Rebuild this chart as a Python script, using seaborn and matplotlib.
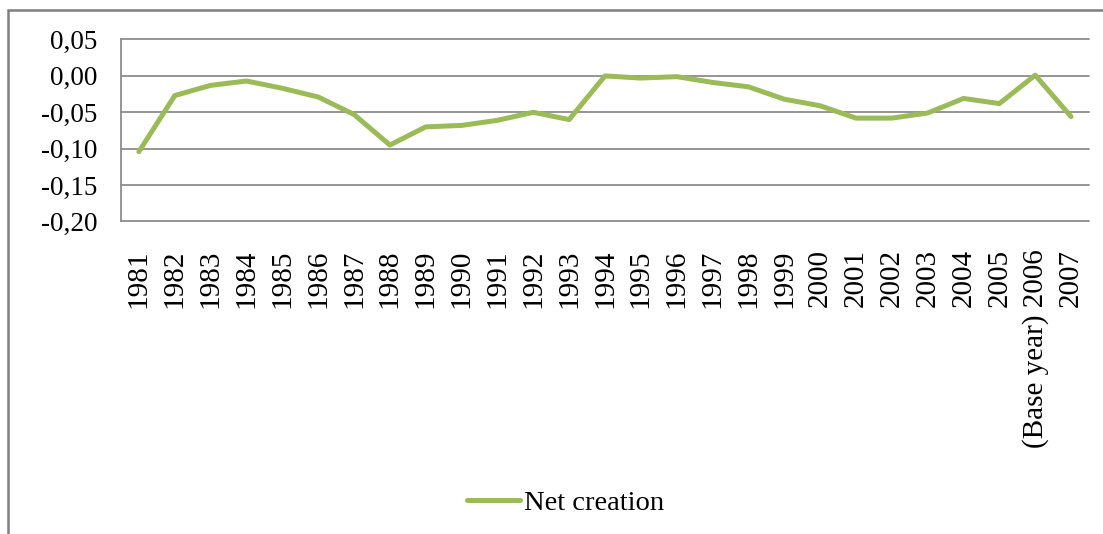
import matplotlib
matplotlib.use("Agg")
import matplotlib.pyplot as plt
import seaborn as sns
import pandas as pd
from matplotlib.patches import Rectangle

years = ["1981", "1982", "1983", "1984", "1985", "1986", "1987", "1988", "1989",
         "1990", "1991", "1992", "1993", "1994", "1995", "1996", "1997", "1998",
         "1999", "2000", "2001", "2002", "2003", "2004", "2005", "(Base year) 2006", "2007"]
net_creation = [-0.104, -0.027, -0.013, -0.007, -0.017, -0.029, -0.053, -0.095, -0.070,
                -0.068, -0.061, -0.050, -0.060, 0.000, -0.003, -0.001, -0.009, -0.015,
                -0.032, -0.041, -0.058, -0.058, -0.051, -0.031, -0.038, 0.001, -0.056]
y_ticks = [0.05, 0.00, -0.05, -0.10, -0.15, -0.20]
y_tick_labels = ["0,05", "0,00", "-0,05", "-0,10", "-0,15", "-0,20"]

df = pd.DataFrame({"year": years, "value": net_creation, "series": "Net creation"})

sns.set_theme(style="white")
plt.rcParams["font.family"] = ["Liberation Serif", "DejaVu Serif"]
plt.rcParams["text.color"] = "black"

fig = plt.figure(figsize=(11.03, 5.34), dpi=100)
ax = fig.add_axes([121 / 1103, 1 - 221.5 / 534, (1089 - 121) / 1103, (221.5 - 39.5) / 534])

sns.lineplot(data=df, x="year", y="value", hue="series", palette=["#9BBB59"],
             sort=False, linewidth=3.6, ax=ax, legend=True)

ax.set_xlim(-0.5, len(years) - 0.5)
ax.set_ylim(-0.20, 0.05)
ax.set_yticks(y_ticks)
ax.set_yticklabels(y_tick_labels)
ax.set_xticks(range(len(years)))
ax.set_xticklabels(years, rotation=90)
ax.set_xlabel("")
ax.set_ylabel("")
ax.grid(axis="y", color="#8c8c8c", linewidth=1.3)
for gl in ax.get_ygridlines():
    gl.set_clip_on(False)
ax.set_axisbelow(True)
for s in ["top", "right", "bottom"]:
    ax.spines[s].set_visible(False)
ax.spines["left"].set_color("#8c8c8c")
ax.spines["left"].set_linewidth(1.3)
ax.tick_params(axis="y", length=0, pad=17, labelsize=19.5, colors="black")
ax.tick_params(axis="x", length=0, pad=20, labelsize=21, colors="black")

handles, labels = ax.get_legend_handles_labels()
ax.get_legend().remove()
fig.legend(handles, labels, loc="center", bbox_to_anchor=(0.513, 0.058), frameon=False,
           fontsize=20.5, handlelength=1.86, handletextpad=0.15, labelcolor="black")

fig.patches.append(Rectangle((8 / 1103, -0.05), 1.2, 1 - 10 / 534 + 0.05,
                             transform=fig.transFigure, fill=False,
                             edgecolor="#7f7f7f", linewidth=1.8, figure=fig))

fig.savefig("out.png", dpi=100)
